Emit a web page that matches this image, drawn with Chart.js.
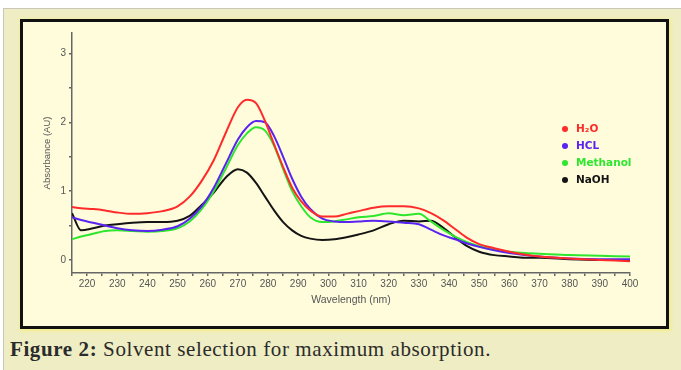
<!DOCTYPE html>
<html>
<head>
<meta charset="utf-8">
<script src="https://cdn.jsdelivr.net/npm/chart.js@4"></script>
<style>
  body { margin: 0; width: 681px; height: 370px; overflow: hidden; background: #fff; position: relative; font-family: "Liberation Serif", serif; }
  #top { position: absolute; left: 0; top: -18px; font-weight: bold; font-size: 20px; color: #333; }
  #outer { position: absolute; left: 3px; top: 8px; width: 700px; height: 400px; border: 1px solid #c9c7b5; background: #efedc3; }
  #frame { position: absolute; left: 20px; top: 19px; width: 649px; height: 310px; box-sizing: border-box; border: 3px solid #111; background: #fffcdc; box-shadow: 1px 1px 3px 1px #f4ee8a; }
  #frame canvas { position: absolute; left: 0; top: 0; }
  #caption { position: absolute; left: 10px; top: 337px; font-size: 21px; color: #2b2b2b; letter-spacing: 0.6px; }
</style>
</head>
<body>
<div id="top">solutions.</div>
<div id="outer"></div>
<div id="frame"><canvas id="myChart" width="643" height="304"></canvas></div>
<div id="caption"><b>Figure 2:</b> Solvent selection for maximum absorption.</div>
<script>
const wavelengths = [215, 218, 222, 226, 230, 235, 240, 245, 250, 254, 258, 262, 266, 270, 273, 276, 279, 282, 285, 288,
  291, 294, 298, 302, 306, 310, 315, 320, 325, 330, 334, 338, 342, 346, 350, 355, 360, 365, 370, 380, 390, 400];

const h2o = [0.77, 0.75, 0.74, 0.72, 0.69, 0.67, 0.68, 0.71, 0.78, 0.92, 1.15, 1.45, 1.85, 2.22, 2.33, 2.28, 2.02, 1.68, 1.35, 1.05,
  0.85, 0.72, 0.63, 0.63, 0.67, 0.71, 0.76, 0.78, 0.78, 0.75, 0.68, 0.58, 0.45, 0.32, 0.23, 0.17, 0.12, 0.08, 0.05, 0.02, 0.0, -0.02];

const hcl = [0.62, 0.58, 0.54, 0.50, 0.46, 0.43, 0.42, 0.44, 0.49, 0.60, 0.78, 1.05, 1.40, 1.75, 1.93, 2.02, 2.00, 1.80, 1.50, 1.18,
  0.92, 0.74, 0.60, 0.56, 0.55, 0.56, 0.57, 0.56, 0.54, 0.52, 0.44, 0.36, 0.30, 0.24, 0.19, 0.14, 0.10, 0.07, 0.05, 0.02, 0.01, 0.01];

const methanol = [0.30, 0.34, 0.38, 0.42, 0.43, 0.42, 0.41, 0.42, 0.46, 0.56, 0.74, 1.00, 1.33, 1.67, 1.84, 1.93, 1.88, 1.66, 1.32, 1.00,
  0.78, 0.62, 0.55, 0.56, 0.59, 0.62, 0.64, 0.68, 0.65, 0.67, 0.56, 0.44, 0.34, 0.26, 0.20, 0.15, 0.12, 0.10, 0.09, 0.07, 0.06, 0.05];

const naoh = [0.68, 0.43, 0.46, 0.50, 0.52, 0.54, 0.55, 0.55, 0.57, 0.64, 0.80, 0.98, 1.20, 1.32, 1.27, 1.12, 0.92, 0.72, 0.55, 0.43,
  0.35, 0.31, 0.29, 0.30, 0.33, 0.37, 0.43, 0.52, 0.57, 0.56, 0.57, 0.47, 0.33, 0.20, 0.12, 0.07, 0.05, 0.03, 0.03, 0.01, 0.0, 0.0];

const seriesNames = ['H\u2082O', 'HCL', 'Methanol', 'NaOH'];
const seriesColors = ['#ff2a2a', '#5a24f0', '#2ee62e', '#141414'];

const xTicks = [215, 220, 225, 230, 235, 240, 245, 250, 255, 260, 265, 270, 275, 280, 285, 290, 295, 300, 305,
  310, 315, 320, 325, 330, 335, 340, 345, 350, 355, 360, 365, 370, 375, 380, 385, 390, 395, 400];
const xLabels = [220, 230, 240, 250, 260, 270, 280, 290, 300, 310, 320, 330, 340, 350, 360, 370, 380, 390, 400];
const yTicks = [0, 0.5, 1, 1.5, 2, 2.5, 3];
const yLabels = [0, 1, 2, 3];

const toPoints = vals => wavelengths.map((w, i) => ({ x: w, y: vals[i] }));

const data = {
  datasets: [h2o, hcl, methanol, naoh].map((vals, i) => ({
    label: seriesNames[i],
    data: toPoints(vals),
    borderColor: seriesColors[i],
    backgroundColor: seriesColors[i],
    borderWidth: 2,
    pointRadius: 0,
    cubicInterpolationMode: 'monotone'
  }))
};

// legend drawn inside the plot, on the right
const sideLegend = {
  id: 'sideLegend',
  afterDatasetsDraw(chart) {
    const { ctx, chartArea } = chart;
    ctx.save();
    ctx.font = 'bold 10.5px "DejaVu Sans"';
    ctx.textBaseline = 'middle';
    chart.data.datasets.forEach((ds, i) => {
      const x = chartArea.right - 65;
      const y = chartArea.top + 96 + i * 17;
      ctx.fillStyle = ds.borderColor;
      ctx.beginPath();
      ctx.arc(x, y, 3, 0, Math.PI * 2);
      ctx.fill();
      ctx.fillText(ds.label, x + 11, y);
    });
    ctx.restore();
  }
};

const axisColor = '#666';
const tickFont = { family: 'Liberation Sans', size: 10 };

const config = {
  type: 'line',
  data: data,
  options: {
    responsive: false,
    animation: false,
    devicePixelRatio: 1,
    layout: { padding: { left: 0, top: 11, right: 36, bottom: 0 } },
    plugins: { legend: { display: false }, tooltip: { enabled: false } },
    scales: {
      x: {
        type: 'linear',
        min: 215,
        max: 400,
        afterBuildTicks: s => { s.ticks = xTicks.map(v => ({ value: v })); },
        afterFit: s => { s.height = 53; },
        ticks: {
          autoSkip: false,
          maxRotation: 0,
          padding: 2,
          color: '#555',
          font: tickFont,
          callback: v => xLabels.includes(v) ? String(v) : ''
        },
        grid: { drawOnChartArea: false, tickLength: 3, color: axisColor, lineWidth: 1.5 },
        border: { color: axisColor, width: 1.5 },
        title: { display: true, text: 'Wavelength (nm)', color: '#555', font: { family: 'Liberation Sans', size: 10.5 }, padding: { top: 0, bottom: 20 } }
      },
      y: {
        min: -0.19,
        max: 3.3,
        afterBuildTicks: s => { s.ticks = yTicks.map(v => ({ value: v })); },
        afterFit: s => { s.width = 49; },
        ticks: {
          padding: 3,
          color: '#555',
          font: tickFont,
          callback: v => yLabels.includes(v) ? String(v) : ''
        },
        grid: { drawOnChartArea: false, tickLength: 3, color: axisColor, lineWidth: 1.5 },
        border: { color: axisColor, width: 1.5 },
        title: { display: true, text: 'Absorbance (AU)', color: '#555', font: { family: 'Liberation Sans', size: 9.5 }, padding: { top: 19, bottom: 0 } }
      }
    }
  },
  plugins: [sideLegend]
};

new Chart(document.getElementById('myChart'), config);
</script>
</body>
</html>
